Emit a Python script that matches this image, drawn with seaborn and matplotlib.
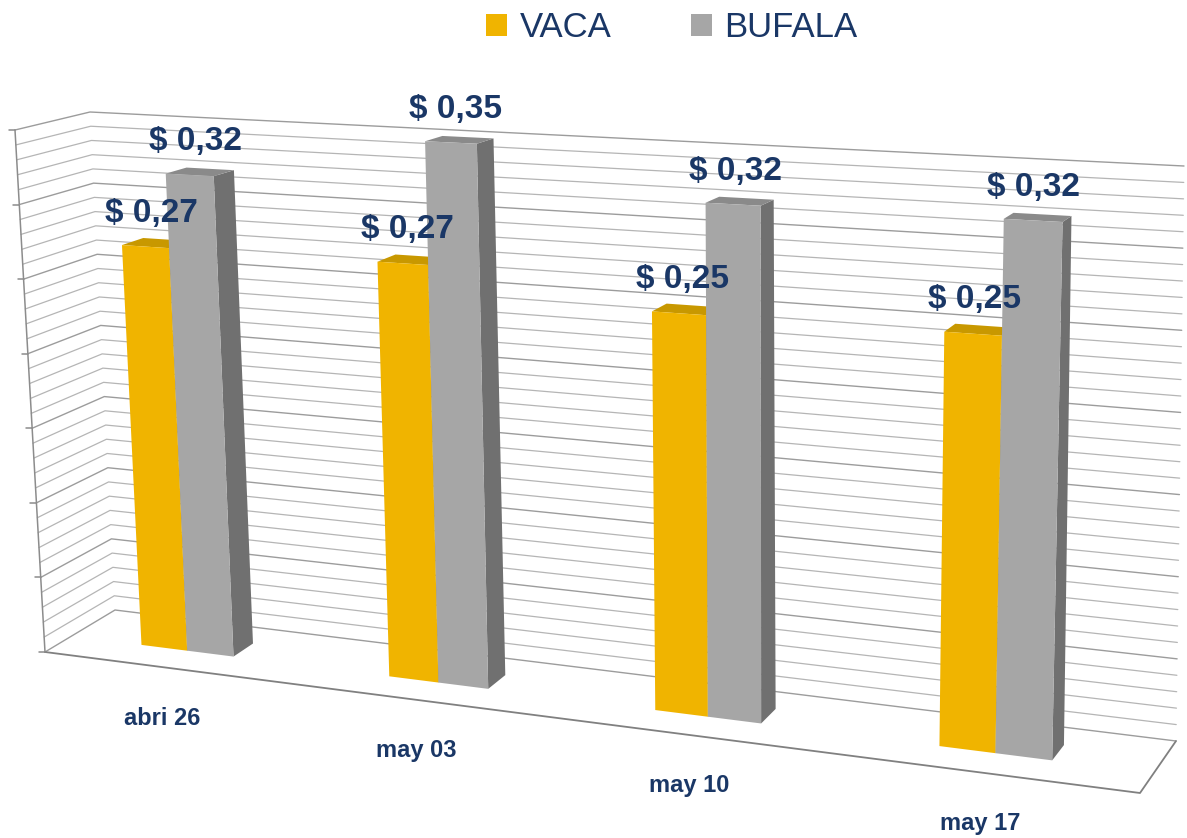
import numpy as np
import pandas as pd
import seaborn as sns
import matplotlib.pyplot as plt
from matplotlib.transforms import Transform

# datos
fechas = ['abri 26', 'may 03', 'may 10', 'may 17']
vaca = [0.27, 0.27, 0.25, 0.25]
bufala = [0.32, 0.35, 0.32, 0.32]
series = ['VACA', 'BUFALA']

datos = pd.DataFrame({
    'fecha': fechas * 2,
    'precio': vaca + bufala,
    'leche': [series[0]] * len(fechas) + [series[1]] * len(fechas),
})

# fake 3D box (pixels): floor corners and the "up" vector for the top of the value axis
FL, FR = np.array([45, 652]), np.array([1140, 793])
BL, BR = np.array([115, 610]), np.array([1176, 741])
UFL, UFR = np.array([-30, -522]), np.array([20, -610])
UBL, UBR = np.array([-25, -498]), np.array([8, -575])
VMAX = 0.35
W0, W1 = 0.38, 0.68  # depth of the bars inside the box

azul = '#1A3766'


def cat_a_s(c):
    # category position -> fraction along the floor (a bit of perspective)
    c = np.asarray(c, float)
    return 0.1068 + 0.2322 * c + 0.0084 * c * (c - 1)


def proyectar(s, v, w):
    s = np.atleast_1d(np.asarray(s, float))[:, None]
    v = np.atleast_1d(np.asarray(v, float))[:, None]
    base = (1 - w) * ((1 - s) * FL + s * FR) + w * ((1 - s) * BL + s * BR)
    up = (1 - w) * ((1 - s) * UFL + s * UFR) + w * ((1 - s) * UBL + s * UBR)
    return base + v / VMAX * up


class Caja(Transform):
    input_dims = output_dims = 2
    is_separable = False
    has_inverse = False

    def __init__(self, w):
        super().__init__()
        self.w = w

    def transform_non_affine(self, values):
        values = np.asarray(values, float)
        pts = values.reshape(-1, 2)
        out = proyectar(cat_a_s(pts[:, 0]), pts[:, 1], self.w)
        return out[0] if values.ndim == 1 else out


sns.set_style('white')
plt.rcParams['font.family'] = ['Liberation Sans', 'DejaVu Sans']

fig = plt.figure(figsize=(11.87, 8.38), dpi=100)
ax = fig.add_axes([0, 0, 1, 1])

sns.barplot(data=datos, x='fecha', y='precio', hue='leche', hue_order=series,
            palette=['#F0B400', '#A6A6A6'], width=0.38, saturation=1,
            errorbar=None, linewidth=0, ax=ax)

# walls: minor lines every 0.01, a little darker every 0.05
for v in np.arange(0, 36) / 100:
    mayor = int(round(v * 100)) % 5 == 0
    pared = np.vstack([proyectar(0, v, 0), proyectar(0, v, 1), proyectar(1, v, 1)])
    ax.plot(pared[:, 0], pared[:, 1], color='#9c9c9c' if mayor else '#b5b5b5',
            lw=1.0 if mayor else 0.9, zorder=1)
    if mayor:
        p = proyectar(0, v, 0)[0]
        ax.plot([p[0] - 6, p[0]], [p[1], p[1]], color='#8c8c8c', lw=1.1, zorder=1)

# floor edges and value axis
piso = np.vstack([proyectar(0, 0, 0), proyectar(1, 0, 0), proyectar(1, 0, 1)])
ax.plot(piso[:, 0], piso[:, 1], color='#808080', lw=1.3, zorder=1)
eje = np.vstack([proyectar(0, 0, 0), proyectar(0, VMAX, 0)])
ax.plot(eje[:, 0], eje[:, 1], color='#8c8c8c', lw=1.1, zorder=1)

# bars: seaborn draws the front faces, add top and side faces
caras = {'VACA': ('#C89800', '#A67E00'), 'BUFALA': ('#8A8A8A', '#707070')}
for cont, serie in zip(ax.containers, series):
    tapa, lado = caras[serie]
    for bar in cont:
        x0 = bar.get_x()
        x1 = x0 + bar.get_width()
        h = bar.get_height()
        s0, s1 = cat_a_s(x0), cat_a_s(x1)
        top = np.vstack([proyectar(s0, h, W0), proyectar(s1, h, W0),
                         proyectar(s1, h, W1), proyectar(s0, h, W1)])
        side = np.vstack([proyectar(s1, 0, W0), proyectar(s1, h, W0),
                          proyectar(s1, h, W1), proyectar(s1, 0, W1)])
        ax.fill(side[:, 0], side[:, 1], color=lado, lw=0, zorder=2)
        ax.fill(top[:, 0], top[:, 1], color=tapa, lw=0, zorder=2)
        bar.set_transform(Caja(W0) + ax.transData)
        bar.set_zorder(3)

        px, py = proyectar(cat_a_s(x0 + bar.get_width() / 2), h, (W0 + W1) / 2)[0]
        ax.text(px - 4, py - 30, f'$ {h:.2f}'.replace('.', ','), ha='center', va='center',
                fontsize=24, fontweight='bold', color=azul, zorder=5)

# category labels under the floor
for i, f in enumerate(fechas):
    px, py = proyectar(cat_a_s(i), 0, 0)[0]
    ax.text(px, py + 51, f, ha='center', va='center', fontsize=17,
            fontweight='bold', color=azul, zorder=5)

sns.move_legend(ax, 'center', bbox_to_anchor=(0.566, 0.967), ncol=2, frameon=False,
                title=None, fontsize=25, labelcolor=azul, handlelength=0.6,
                handleheight=0.6, handletextpad=0.35, columnspacing=2.3)

ax.set_xlim(0, 1187)
ax.set_ylim(838, 0)
ax.set_axis_off()

fig.savefig('out.png', dpi=100)
